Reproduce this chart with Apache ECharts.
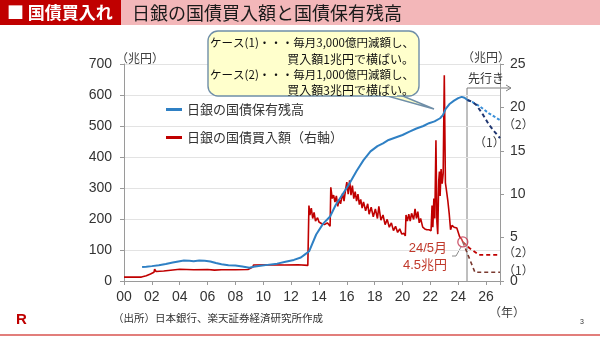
<!DOCTYPE html>
<html><head><meta charset="utf-8">
<script src="https://cdn.jsdelivr.net/npm/echarts@6/dist/echarts.min.js"></script>
<style>html,body{margin:0;padding:0;background:#fff}#c{width:600px;height:337px}</style>
</head><body><div id="c"></div>
<script>
// ---- data ----
const xTicks = [2000, 2002, 2004, 2006, 2008, 2010, 2012, 2014, 2016, 2018, 2020, 2022, 2024, 2026];
const leftTicks = [0, 100, 200, 300, 400, 500, 600, 700];
const rightTicks = [0, 5, 10, 15, 20, 25];
const seriesNames = ['日銀の国債保有残高', '日銀の国債買入額（右軸）'];
// BOJ JGB holdings (兆円, left axis) [year, value]
const holdings = [[2001.3,45],[2001.6,46],[2002.0,48],[2002.5,51],[2003.0,55],[2003.5,60],[2004.0,64],[2004.3,66],[2004.7,65],[2005.0,64],[2005.4,66],[2005.8,65],[2006.2,63],[2006.6,58],[2007.0,54],[2007.5,51],[2008.0,50],[2008.5,47],[2009.0,43],[2009.3,46],[2009.8,49],[2010.3,52],[2011.0,56],[2011.6,62],[2012.2,68],[2012.7,76],[2013.0,86],[2013.3,96],[2013.8,150],[2014.3,185],[2014.8,208],[2015.2,245],[2015.7,280],[2016.2,315],[2016.7,355],[2017.2,390],[2017.7,418],[2018.2,435],[2018.6,444],[2019.0,455],[2019.5,463],[2020.0,471],[2020.5,482],[2021.0,492],[2021.5,500],[2021.9,509],[2022.3,515],[2022.7,525],[2022.9,535],[2023.1,555],[2023.4,572],[2023.7,582],[2024.0,590],[2024.25,594],[2024.45,591],[2024.66,584]];
const holdCase2 = [[2024.66,584],[2025.0,578],[2025.5,565],[2026.2,541],[2026.6,530],[2027.0,519]];
const holdCase1 = [[2024.66,584],[2025.0,578],[2025.3,568],[2025.8,535],[2026.2,505],[2026.6,482],[2027.0,461]];
// BOJ monthly JGB purchases (兆円, right axis) [year, value]
const purchases = [[2000.0,0.45],[2001.25,0.45],[2001.3,0.6],[2001.6,0.6],[2001.65,0.75],[2001.9,0.8],[2001.95,1.0],[2002.15,1.0],[2002.2,1.35],[2002.3,1.1],[2002.85,1.15],[2002.9,1.35],[2004.0,1.35],[2005.0,1.3],[2006.0,1.32],[2006.5,1.25],[2007.0,1.3],[2008.0,1.3],[2008.9,1.32],[2008.95,1.55],[2009.25,1.6],[2009.3,1.85],[2010.5,1.88],[2011.5,1.85],[2012.5,1.88],[2013.2,1.8],[2013.28,8.7],[2013.35,7.6],[2013.45,8.4],[2013.55,7.2],[2013.65,7.9],[2013.75,6.9],[2013.9,7.3],[2014.0,6.8],[2014.2,6.6],[2014.4,6.5],[2014.6,6.7],[2014.8,6.3],[2014.85,10.8],[2014.95,9.5],[2015.05,9.9],[2015.15,9.1],[2015.25,9.8],[2015.35,8.6],[2015.45,9.4],[2015.55,8.9],[2015.7,10.1],[2015.8,9.2],[2015.9,10.4],[2016.0,11.4],[2016.1,10.0],[2016.2,11.6],[2016.3,9.9],[2016.4,11.0],[2016.5,9.5],[2016.6,10.3],[2016.7,9.2],[2016.8,10.0],[2016.9,8.8],[2017.0,9.4],[2017.1,8.4],[2017.2,9.1],[2017.35,8.1],[2017.5,8.9],[2017.6,7.7],[2017.75,8.5],[2017.9,7.4],[2018.05,8.3],[2018.2,7.2],[2018.3,8.6],[2018.45,7.0],[2018.6,7.6],[2018.75,6.5],[2018.9,7.1],[2019.05,6.2],[2019.2,6.7],[2019.35,5.8],[2019.5,6.3],[2019.65,5.6],[2019.8,6.0],[2019.95,5.4],[2020.1,5.5],[2020.2,5.2],[2020.25,7.6],[2020.35,6.9],[2020.45,7.7],[2020.55,6.9],[2020.65,7.8],[2020.8,7.1],[2020.9,8.3],[2021.0,7.2],[2021.1,8.0],[2021.2,6.7],[2021.3,7.2],[2021.45,6.2],[2021.6,6.0],[2021.75,5.9],[2021.9,5.9],[2022.05,5.8],[2022.12,8.7],[2022.18,6.2],[2022.25,9.5],[2022.32,7.2],[2022.4,16.2],[2022.47,6.8],[2022.53,5.4],[2022.6,11.5],[2022.65,12.6],[2022.7,9.8],[2022.77,12.9],[2022.85,11.2],[2022.92,12.4],[2023.0,23.7],[2023.08,11.3],[2023.15,10.5],[2023.25,9.3],[2023.35,7.8],[2023.45,5.9],[2023.55,6.4],[2023.7,6.2],[2023.9,6.1],[2024.1,5.1],[2024.25,4.8],[2024.33,4.5]];
const buyCase2 = [[2024.33,4.5],[2024.8,3.8],[2025.5,3.0],[2027.0,3.0]];
const buyCase1 = [[2024.33,4.5],[2025.2,1.0],[2027.0,1.0]];
const latestPoint = [[2024.33,4.5]];

// ---- chart ----
const FONT = '"Liberation Sans","Noto Sans CJK JP",sans-serif';
const JP = '"Noto Sans CJK JP",sans-serif';
const chart = echarts.init(document.getElementById('c'), null, {renderer:'canvas'});
const txt = (x,y,t,o,z) => ({type:'text', x, y, z:(z||20), style:Object.assign({text:t, font:'12px '+JP, fill:'#404040', textVerticalAlign:'middle'}, o||{})});
chart.setOption({
  animation:false,
  textStyle:{fontFamily:FONT},
  grid:{left:124, right:100, top:64, bottom:56},
  legend:{
    left:161, top:98, orient:'vertical', itemGap:15, itemWidth:16, itemHeight:3, icon:'rect',
    data:seriesNames,
    textStyle:{fontFamily:JP, fontSize:13, color:'#333'}
  },
  xAxis:{
    type:'value', min:xTicks[0], max:2027, interval:2,
    axisLine:{lineStyle:{color:'#9a9a9a'}},
    axisTick:{length:4, lineStyle:{color:'#9a9a9a'}},
    axisLabel:{margin:9, fontSize:14, color:'#333', fontFamily:FONT,
      formatter:v => xTicks.indexOf(v) >= 0 ? String(v % 100).padStart(2,'0') : ''},
    splitLine:{show:false}
  },
  yAxis:[
    {type:'value', min:leftTicks[0], max:leftTicks[leftTicks.length-1], interval:100,
      axisLine:{show:true, lineStyle:{color:'#9a9a9a'}},
      axisTick:{show:true, length:4, lineStyle:{color:'#9a9a9a'}},
      axisLabel:{margin:12, fontSize:14, color:'#333', fontFamily:FONT},
      splitLine:{lineStyle:{color:'#e3e3e3'}}},
    {type:'value', min:rightTicks[0], max:rightTicks[rightTicks.length-1], interval:5, position:'right',
      axisLine:{show:true, lineStyle:{color:'#9a9a9a'}},
      axisTick:{show:true, length:4, lineStyle:{color:'#9a9a9a'}},
      axisLabel:{margin:10, fontSize:14, color:'#333', fontFamily:FONT},
      splitLine:{show:false}}
  ],
  series:[
    {name:seriesNames[0], type:'line', yAxisIndex:0, data:holdings, showSymbol:false, symbol:'none',
      lineStyle:{color:'#2f80c4', width:2}, itemStyle:{color:'#2f80c4'}, z:3},
    {name:seriesNames[1], type:'line', yAxisIndex:1, data:purchases, showSymbol:false, symbol:'none',
      lineStyle:{color:'#c00000', width:1.6}, itemStyle:{color:'#c00000'}, z:2},
    {type:'line', yAxisIndex:0, data:holdCase2, symbol:'none',
      lineStyle:{color:'#3a8fd8', width:2, type:[3,2]}},
    {type:'line', yAxisIndex:0, data:holdCase1, symbol:'none',
      lineStyle:{color:'#1f3570', width:2, type:[4,3]}},
    {type:'line', yAxisIndex:1, data:buyCase2, symbol:'none',
      lineStyle:{color:'#c00000', width:1.8, type:[4,3]}},
    {type:'line', yAxisIndex:1, data:buyCase1, symbol:'none',
      lineStyle:{color:'#7a3a30', width:1.6, type:[4,3]}},
    {type:'scatter', yAxisIndex:1, data:latestPoint, symbol:'circle', symbolSize:10,
      itemStyle:{color:'rgba(255,255,255,0.3)', borderColor:'#c0304a', borderWidth:1.3}, z:5}
  ],
  graphic:[
    {type:'rect', shape:{x:0,y:0,width:600,height:25}, style:{fill:'#f3b7b9'}},
    {type:'rect', shape:{x:0,y:0,width:121,height:25}, style:{fill:'#c00000'}, z:2},
    txt(7,13,'■ 国債買入れ',{font:'bold 17px '+JP, fill:'#fff'}),
    txt(132,13,'日銀の国債買入額と国債保有残高',{font:'18px '+JP, fill:'#1a1a1a'}),
    // callout
    {type:'polygon', shape:{points:[[380,94],[398,94],[434,109]]}, style:{fill:'#ffffcc', stroke:'#6f8ea8', lineWidth:1.4}, z:10},
    {type:'rect', shape:{x:208,y:31,width:211,height:65,r:10}, style:{fill:'#ffffcc', stroke:'#6f8ea8', lineWidth:1.4}, z:11},
    {type:'rect', shape:{x:381,y:93,width:16,height:3}, style:{fill:'#ffffcc'}, z:12},
    txt(414,43,'ケース(1)・・・毎月3,000億円減額し、',{font:'11.5px '+JP, fill:'#111', textAlign:'right'}, 30),
    txt(414,59,'買入額1兆円で横ばい。',{font:'12px '+JP, fill:'#111', textAlign:'right'}, 30),
    txt(414,75,'ケース(2)・・・毎月1,000億円減額し、',{font:'11.5px '+JP, fill:'#111', textAlign:'right'}, 30),
    txt(414,90,'買入額3兆円で横ばい。',{font:'12px '+JP, fill:'#111', textAlign:'right'}, 30),
    // axis units
    txt(116,58,'（兆円）',{font:'12px '+JP}),
    txt(462,57,'（兆円）',{font:'12px '+JP}),
    txt(489,312,'（年）',{font:'12px '+JP}),
    // forecast marker
    {type:'line', shape:{x1:467,y1:88,x2:467,y2:281}, style:{stroke:'#7f7f7f', lineWidth:1}},
    {type:'line', shape:{x1:467,y1:88,x2:511,y2:88}, style:{stroke:'#7f7f7f', lineWidth:1}},
    {type:'polyline', shape:{points:[[506,85],[511,88],[506,91]]}, style:{stroke:'#7f7f7f', lineWidth:1, fill:null}},
    txt(468,78,'先行き',{font:'12px '+JP, fill:'#333'}),
    // case labels
    txt(503,124,'（2）',{font:'12px '+JP}),
    txt(474,142,'（1）',{font:'12px '+JP}),
    txt(503,252,'（2）',{font:'12px '+JP}),
    txt(503,270,'（1）',{font:'12px '+JP}),
    // latest annotation
    txt(447,248,'24/5月',{font:'13px '+FONT, fill:'#c0392b', textAlign:'right'}),
    txt(447,265,'4.5兆円',{font:'13px '+FONT, fill:'#c0392b', textAlign:'right'}),
    {type:'polyline', shape:{points:[[452,256],[456,256],[461,247]]}, style:{stroke:'#8a8a8a', lineWidth:1, fill:null}},
    // footer
    txt(113,318,'（出所）日本銀行、楽天証券経済研究所作成',{font:'10.5px '+JP, fill:'#333'}),
    txt(16,320,'R',{font:'bold 15px '+FONT, fill:'#bf0000'}),
    txt(580,322,'3',{font:'7px '+FONT, fill:'#333'}),
    {type:'line', shape:{x1:0,y1:335,x2:600,y2:335}, style:{stroke:'#d9534f', lineWidth:1.5}}
  ]
});
</script></body></html>
